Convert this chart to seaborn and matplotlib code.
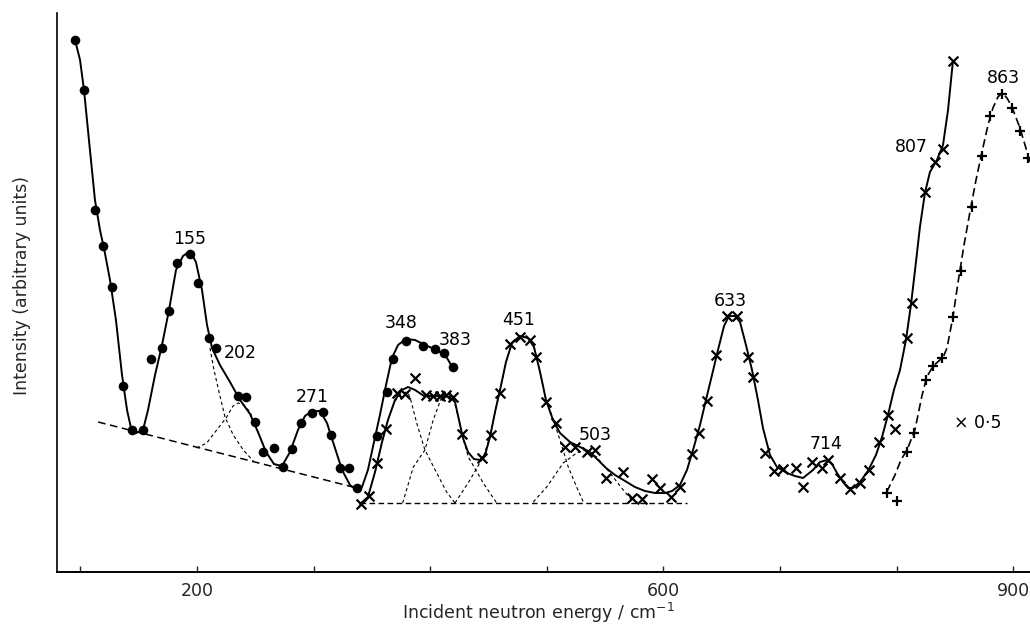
import matplotlib
matplotlib.use("Agg")
import matplotlib.pyplot as plt
import seaborn as sns
import pandas as pd

# ---------------- data (energy in cm^-1, intensity in arbitrary units) ----------------
# Series 1: filled circles (low-energy run)
dots_x = [95.4, 103.3, 112.5, 119.4, 127.1, 136.5, 144.0, 153.9, 160.3, 169.7, 176.0, 183.1,
          194.0, 200.6, 210.3, 216.3, 234.9, 242.0, 249.7, 256.6, 266.0, 273.8, 281.5, 288.9,
          298.4, 307.8, 314.9, 322.6, 330.6, 337.2, 354.1, 362.9, 368.3, 379.2, 393.8, 404.1,
          411.8, 419.3]
dots_y = [53.2, 48.2, 36.2, 32.6, 28.5, 18.6, 14.2, 14.2, 21.3, 22.4, 26.1, 30.9,
          31.8, 28.9, 23.4, 22.4, 17.6, 17.5, 15.0, 12.0, 12.4, 10.5, 12.3, 14.9,
          15.9, 16.0, 13.7, 10.4, 10.4, 8.4, 13.6, 18.0, 21.3, 23.1, 22.6, 22.3,
          21.9, 20.5]
curve1_x = [95.4, 99.7, 103.1, 108.2, 112.5, 116.8, 120.2, 125.4, 130.5, 135.7, 140.0, 143.4,
            147.7, 153.7, 158.0, 164.0, 170.0, 176.0, 182.0, 188.0, 194.0, 199.1, 204.3, 208.6,
            212.9, 219.7, 228.3, 236.9, 245.5, 252.3, 259.2, 266.0, 272.9, 279.8, 286.6, 292.6,
            298.6, 305.5, 311.5, 317.5, 324.4, 331.2, 337.2, 341.5, 346.6, 351.8, 356.9, 362.1,
            367.2, 372.4, 379.2, 387.0, 393.8, 401.5, 408.4, 414.4, 419.5]
curve1_y = [53.2, 51.2, 48.2, 42.2, 37.2, 34.2, 32.4, 29.2, 25.2, 19.7, 16.2, 14.4,
            13.9, 14.2, 16.2, 19.7, 22.7, 26.2, 30.2, 31.6, 32.1, 31.0, 28.2, 24.7,
            22.4, 20.7, 19.0, 17.2, 15.8, 14.0, 12.0, 10.8, 10.6, 12.0, 14.2, 15.6,
            16.1, 16.1, 14.9, 12.7, 10.2, 8.7, 8.2, 8.5, 10.2, 13.0, 15.7, 18.7,
            21.4, 22.7, 23.3, 23.2, 22.8, 22.4, 22.0, 21.4, 20.4]

# Series 2: crosses (main run)
cross_x = [340.4, 347.8, 354.6, 362.1, 371.8, 378.4, 387.0, 396.4, 402.6, 408.4, 413.5, 419.8,
           427.0, 444.2, 451.9, 459.9, 468.4, 477.0, 485.6, 490.7, 499.3, 507.9, 515.6, 524.2,
           534.2, 541.3, 550.8, 565.6, 572.8, 581.4, 590.0, 597.1, 606.2, 614.2, 624.3, 630.5,
           637.1, 645.1, 654.8, 662.8, 672.8, 677.1, 687.1, 695.1, 702.8, 713.7, 719.4, 727.2,
           735.7, 741.4, 751.4, 760.0, 768.6, 776.6, 785.1, 792.9, 798.6, 808.6, 813.2, 824.3,
           832.9, 839.5, 848.1]
cross_y = [6.8, 7.6, 10.9, 14.3, 17.9, 17.8, 19.4, 17.7, 17.6, 17.6, 17.7, 17.5,
           13.8, 11.4, 13.7, 17.9, 22.8, 23.5, 23.2, 21.5, 17.0, 14.9, 12.5, 12.5,
           12.0, 12.2, 9.4, 10.0, 7.4, 7.3, 9.3, 8.4, 7.5, 8.5, 11.8, 13.9,
           17.1, 21.7, 25.6, 25.6, 21.5, 19.5, 11.9, 10.1, 10.3, 10.4, 8.5, 11.0,
           10.4, 11.2, 9.4, 8.3, 8.9, 10.2, 13.0, 15.7, 14.3, 23.4, 26.9, 38.0,
           41.0, 42.3, 51.1]
curve2_x = [339.8, 346.6, 352.7, 358.7, 363.8, 369.8, 375.8, 381.0, 387.0, 394.7, 402.4, 410.1,
            417.0, 421.3, 424.7, 428.1, 432.4, 437.5, 442.7, 447.0, 451.3, 455.6, 459.9, 465.0,
            470.1, 477.0, 483.9, 489.0, 494.2, 499.3, 505.3, 511.3, 519.9, 528.5, 537.0, 543.9,
            550.8, 558.5, 567.1, 575.6, 584.2, 592.8, 601.4, 607.4, 614.2, 620.2, 625.4, 631.4,
            636.5, 641.7, 646.8, 652.0, 656.2, 661.4, 665.7, 670.8, 676.0, 681.1, 685.4, 691.4,
            697.4, 706.0, 712.8, 719.7, 728.3, 734.3, 740.3, 744.6, 748.9, 754.0, 758.3, 762.6,
            768.6, 775.4, 782.3, 787.5, 792.6, 797.7, 802.9, 808.0, 812.3, 816.6, 820.0, 824.3,
            828.6, 834.6, 839.8, 844.1, 848.3]
curve2_y = [6.8, 7.5, 10.0, 13.0, 15.2, 17.2, 18.2, 18.5, 18.2, 17.6, 17.6, 17.6,
            17.5, 17.0, 15.2, 13.4, 12.0, 11.3, 11.2, 11.7, 13.5, 16.0, 18.2, 21.0,
            22.9, 23.6, 23.4, 22.5, 20.0, 17.2, 15.2, 13.9, 13.0, 12.5, 12.0, 11.2,
            10.4, 9.7, 9.1, 8.5, 8.1, 7.9, 7.9, 8.1, 8.7, 10.2, 12.2, 14.7,
            17.2, 19.7, 22.2, 24.6, 25.6, 25.6, 25.0, 22.7, 20.2, 17.2, 14.4, 11.7,
            10.5, 9.9, 9.6, 9.4, 10.2, 11.0, 11.2, 10.8, 9.9, 9.0, 8.4, 8.4,
            9.0, 10.1, 11.7, 13.5, 15.7, 18.2, 20.2, 23.2, 26.7, 31.0, 34.5, 37.9,
            40.0, 41.2, 42.7, 46.2, 51.1]

# Series 3: plus signs (x 0.5 run)
plus_x = [791.5, 800.1, 808.6, 814.9, 824.9, 831.4, 839.2, 848.1, 854.9, 864.4, 873.0, 880.1,
          890.1, 898.7, 905.8, 912.9]
plus_y = [7.9, 7.1, 12.0, 13.9, 19.2, 20.6, 21.4, 25.5, 30.1, 36.5, 41.6, 45.6,
          47.8, 46.4, 44.1, 41.4]
curve3_x = [791.5, 798.6, 803.7, 808.9, 815.7, 821.5, 825.8, 831.4, 840.0, 843.2, 848.3, 852.6,
            857.8, 862.9, 868.1, 873.2, 878.4, 882.6, 886.9, 890.4, 894.7, 898.9, 905.8, 910.9,
            914.4]
curve3_y = [8.0, 9.7, 11.2, 12.2, 14.2, 17.5, 19.5, 20.6, 21.5, 22.4, 25.5, 28.9,
            32.7, 36.0, 39.2, 42.0, 44.7, 46.4, 47.5, 47.9, 47.4, 46.5, 44.4, 42.4,
            40.9]

# Backgrounds
base1_x = [115.2, 337.0]
base1_y = [15.0, 8.4]
base2_x = [339.8, 620.2]
base2_y = [6.9, 6.9]

# Fitted components (dashed)
comp155_x = [211.1, 214.6, 219.1, 224.0, 231.1, 239.7, 248.3]
comp155_y = [22.4, 20.2, 17.9, 15.5, 13.7, 12.2, 11.1]
comp202_x = [199.7, 208.3, 216.9, 225.5, 230.9, 235.4, 240.3, 245.5, 252.3, 259.2, 266.0, 272.9]
comp202_y = [12.4, 12.9, 14.2, 15.5, 16.6, 16.9, 16.7, 16.0, 14.0, 12.0, 10.8, 10.4]
comp348_x = [339.8, 346.6, 352.7, 358.7, 363.8, 369.8, 375.8, 380.1, 382.7, 388.4, 395.5, 405.6,
             414.1, 421.3]
comp348_y = [6.8, 7.5, 10.0, 13.0, 15.2, 17.1, 17.9, 18.0, 17.5, 14.9, 12.2, 9.9,
             8.0, 6.9]
comp383_x = [376.4, 385.5, 395.5, 402.6, 409.9, 414.4, 419.5, 424.7, 428.1, 432.7, 445.5, 457.0]
comp383_y = [6.9, 10.5, 12.2, 15.2, 17.5, 17.8, 17.5, 15.2, 13.4, 11.5, 8.9, 6.9]
comp451_x = [421.3, 434.1, 445.5, 451.3, 455.6, 459.9, 465.0, 470.1, 477.0, 483.9, 489.0, 494.2,
             499.3, 502.7, 511.3, 518.4, 525.6, 531.3]
comp451_y = [6.9, 9.2, 11.5, 13.5, 16.0, 18.2, 21.0, 22.9, 23.6, 23.4, 22.5, 20.0,
             17.2, 16.2, 13.2, 10.5, 8.5, 7.0]
comp503_x = [488.4, 499.9, 514.1, 525.6, 532.7, 542.8, 554.2, 565.6, 572.8]
comp503_y = [7.0, 8.5, 10.9, 11.9, 12.2, 11.5, 9.9, 8.2, 7.2]

# Peak labels
peak_labels = ["155", "202", "271", "348", "383", "451", "503", "633", "714", "807", "863"]
peak_lab_x = [193.6, 236.9, 299.1, 375.0, 421.3, 476.1, 541.3, 657.1, 739.4, 812.3, 891.7]
peak_lab_y = [33.3, 21.9, 17.5, 24.9, 23.2, 25.2, 13.7, 27.1, 12.8, 42.5, 49.4]

x_ticks = [100, 200, 300, 400, 500, 600, 700, 800, 900]
x_tick_labels = ["", "200", "", "", "", "600", "", "", "900"]

# ---------------- plotting ----------------
sns.set_style("white")
plt.rcParams["font.family"] = ["DejaVu Sans"]

fig = plt.figure(figsize=(10.3, 6.3), dpi=100)
ax = fig.add_axes([57.3 / 1030, 58 / 630, 1 - 57.3 / 1030, 1 - 58 / 630])

def line(x, y, **kw):
    df = pd.DataFrame({"x": x, "y": y})
    sns.lineplot(data=df, x="x", y="y", sort=False, estimator=None, ax=ax, **kw)

# components and backgrounds
for cx, cy in [(comp155_x, comp155_y), (comp202_x, comp202_y), (comp348_x, comp348_y),
               (comp383_x, comp383_y), (comp451_x, comp451_y), (comp503_x, comp503_y)]:
    line(cx, cy, color="black", linewidth=0.8, linestyle=(0, (3, 2.5)))
line(base1_x, base1_y, color="black", linewidth=1.1, linestyle=(0, (5, 3)))
line(base2_x, base2_y, color="black", linewidth=1.0, linestyle=(0, (4, 2.5)))

# measured curves
line(curve1_x, curve1_y, color="black", linewidth=1.4)
line(curve2_x, curve2_y, color="black", linewidth=1.4)
line(curve3_x, curve3_y, color="black", linewidth=1.2, linestyle=(0, (5, 2.5)))

# markers
sns.scatterplot(x=dots_x, y=dots_y, ax=ax, color="black", s=48, marker="o",
                edgecolor="black", linewidth=0, zorder=5)
sns.scatterplot(x=cross_x, y=cross_y, ax=ax, color="black", s=50, marker="x",
                linewidth=1.6, zorder=5)
sns.scatterplot(x=plus_x, y=plus_y, ax=ax, color="black", s=60, marker="+",
                linewidth=1.6, zorder=5)

for lab, lx, ly in zip(peak_labels, peak_lab_x, peak_lab_y):
    ax.text(lx, ly, lab, ha="center", va="center", fontsize=12.5, color="black")
ax.text(869.8, 14.9, "× 0·5", ha="center", va="center", fontsize=12.5, color="black")

ax.set_xlim(80.2, 914.4)
ax.set_ylim(0, 57.2)
ax.set_xticks(x_ticks)
ax.set_xticklabels(x_tick_labels, fontsize=12.5)
ax.set_yticks([])
ax.tick_params(axis="x", direction="in", length=4, width=1, pad=7, bottom=True)
for side in ["top", "right"]:
    ax.spines[side].set_visible(False)
ax.spines["left"].set_bounds(0, 55.9)
ax.spines["left"].set_linewidth(1.2)
ax.spines["bottom"].set_linewidth(1.4)
ax.spines["left"].set_color("black")
ax.spines["bottom"].set_color("black")
ax.set_xlabel("")
ax.set_ylabel("")
ax.patch.set_alpha(0)

fig.text(538 / 1030, 1 - 613 / 630, "Incident neutron energy / cm$^{-1}$",
         ha="center", va="center", fontsize=12.5)
fig.text(22 / 1030, 1 - 286 / 630, "Intensity (arbitrary units)",
         ha="center", va="center", rotation=90, fontsize=12.5)

fig.savefig("out.png", dpi=100, facecolor="white")
